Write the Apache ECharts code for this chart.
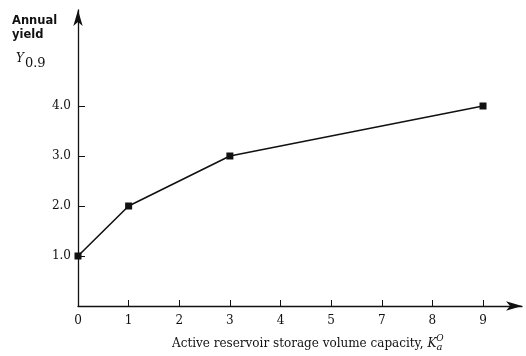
<!DOCTYPE html>
<html><head><meta charset="utf-8">
<script src="https://cdn.jsdelivr.net/npm/echarts@6/dist/echarts.min.js"></script>
<style>html,body{margin:0;padding:0;background:#fff}#c{width:526px;height:356px}</style>
</head><body><div id="c"></div>
<script>
// tick labels along the x axis (as printed in the original; evenly spaced)
const xTickLabels = ['0','1','2','3','4','5','7','8','9'];
// data points: x given as printed label, y = annual yield
const xValues = ['0','1','3','9'];
const yValues = [1.0, 2.0, 3.0, 4.0];
const yTickValues = [1, 2, 3, 4];

const chart = echarts.init(document.getElementById('c'));
const serif = '"DejaVu Serif","Liberation Serif",serif';
const data = xValues.map((v, i) => [xTickLabels.indexOf(v), yValues[i]]);
const tickIdx = xTickLabels.map((_, i) => i);

chart.setOption({
  backgroundColor: '#fff',
  animation: false,
  grid: { left: 78, right: 4, top: 10, bottom: 50 },
  xAxis: {
    type: 'value', min: 0, max: 8.77, interval: 1,
    splitLine: { show: false },
    axisLine: { show: true, symbol: ['none', 'arrow'], symbolSize: [7, 16], symbolOffset: [0, 0],
      lineStyle: { color: '#111', width: 1.3 } },
    axisTick: { show: true, inside: true, length: 6, customValues: tickIdx,
      lineStyle: { color: '#111', width: 1 } },
    axisLabel: { show: true, customValues: tickIdx, margin: 9,
      formatter: v => xTickLabels[Math.round(v)] ?? '',
      color: '#111', fontFamily: serif, fontSize: 12 }
  },
  yAxis: {
    type: 'value', min: 0, max: 5.92, interval: 1,
    splitLine: { show: false },
    axisLine: { show: true, symbol: ['none', 'arrow'], symbolSize: [7, 16],
      lineStyle: { color: '#111', width: 1.3 } },
    axisTick: { show: true, inside: true, length: 7, customValues: yTickValues,
      lineStyle: { color: '#111', width: 1 } },
    axisLabel: { show: true, customValues: yTickValues, margin: 7,
      formatter: v => v.toFixed(1),
      color: '#111', fontFamily: serif, fontSize: 12 }
  },
  series: [{
    type: 'line', data: data,
    symbol: 'rect', symbolSize: 7,
    itemStyle: { color: '#111' },
    lineStyle: { color: '#111', width: 1.6 }
  }],
  graphic: [
    { type: 'text', left: 12, top: 14, style: { text: 'Annual\nyield', fill: '#111',
      font: 'bold 11.5px "DejaVu Sans", sans-serif', lineHeight: 14 } },
    { type: 'text', left: 16, top: 53, style: {
      text: '{i|Y}{s|0.9}', fill: '#111',
      rich: { i: { fontFamily: serif, fontStyle: 'italic', fontSize: 12, fill: '#111' },
              s: { fontFamily: serif, fontSize: 13, fill: '#111', padding: [10, 0, 0, 1] } } } },
    { type: 'text', left: 172, top: 334, style: {
      text: 'Active reservoir storage volume capacity, {k|K}{sub|a}{sup|O}', fill: '#111',
      font: '12px ' + serif,
      rich: { k: { fontFamily: serif, fontStyle: 'italic', fontSize: 12, fill: '#111' },
              sub: { fontFamily: serif, fontStyle: 'italic', fontSize: 10, fill: '#111', padding: [8, 0, 0, 0] },
              sup: { fontFamily: serif, fontStyle: 'italic', fontSize: 9, fill: '#111', padding: [0, 0, 10, -6] } } } }
  ]
});
</script></body></html>
